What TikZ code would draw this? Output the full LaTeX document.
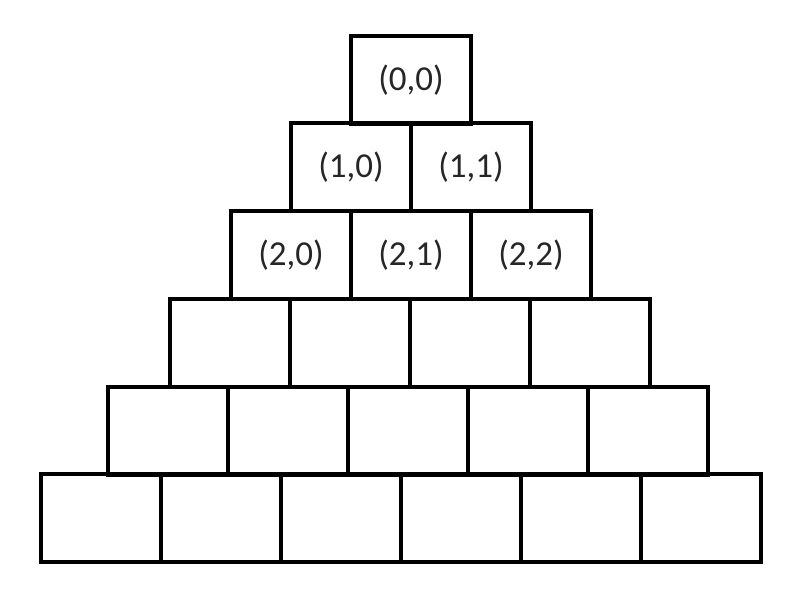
\documentclass[tikz,border=0pt]{standalone}
\usepackage{fontspec}
\setmainfont{Carlito}
\begin{document}
\begin{tikzpicture}[x=1pt,y=1pt,
  cell/.style={draw=black, line width=4.5pt, minimum width=120pt, minimum height=88pt,
    inner sep=0pt, outer sep=0pt, anchor=north west,
    font=\fontsize{35}{40}\selectfont, text=black!85}]
\useasboundingbox[fill=white] (0,0) rectangle (790,-602);
\foreach \rowi/\lx/\ty in {0/351/36, 1/291/123, 2/231/211, 3/170/299, 4/108/387, 5/41/474} {
  \foreach \coli in {0,...,\rowi} {
    \node[cell] (c\rowi\coli) at (\lx+120*\coli, -\ty) {\ifnum\rowi<3 (\rowi,\coli)\fi};
  }
}
\end{tikzpicture}
\end{document}
